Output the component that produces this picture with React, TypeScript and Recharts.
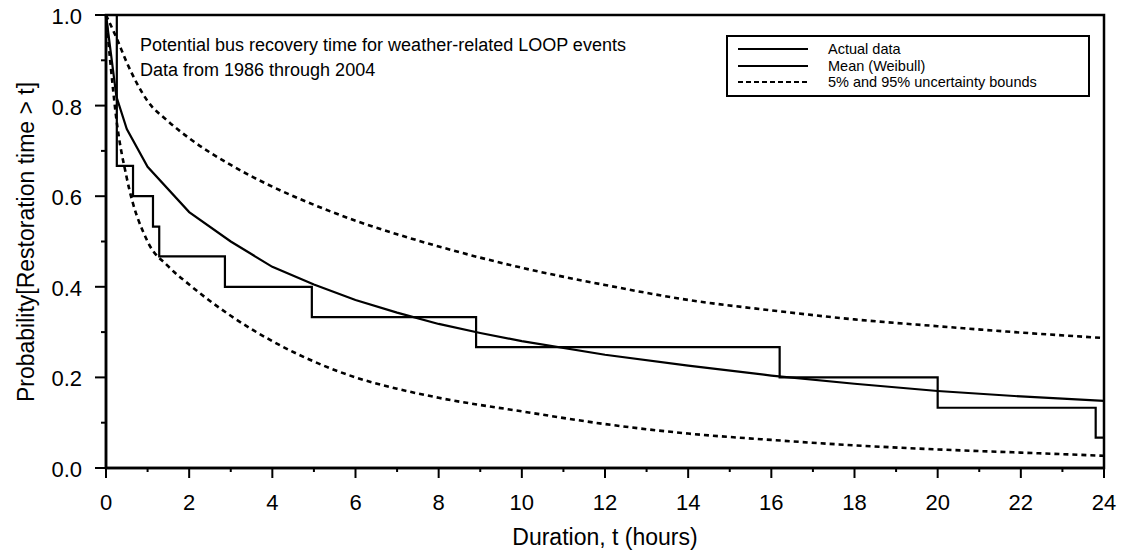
import React from 'react';
import {
  LineChart,
  Line,
  XAxis,
  YAxis,
  ReferenceArea,
} from 'recharts';

// step data (Kaplan-Meier style, actual events)
const stepTimes = [0, 0.26, 0.65, 1.13, 1.28, 2.86, 4.95, 8.9, 16.2, 20.0, 23.8, 24];
const stepProb = [1.0, 0.667, 0.6, 0.533, 0.467, 0.4, 0.333, 0.267, 0.2, 0.133, 0.067, 0.067];

// mean (Weibull) curve
const meanTimes = [0, 0.25, 0.5, 1, 2, 3, 4, 5, 6, 7, 8, 9, 10, 12, 14, 16, 18, 20, 22, 24];
const meanProb = [1.0, 0.82, 0.748, 0.665, 0.565, 0.5, 0.444, 0.405, 0.371, 0.343, 0.318, 0.298, 0.28, 0.25, 0.226, 0.204, 0.186, 0.17, 0.158, 0.148];

// 95% bound
const upperTimes = [0, 0.25, 0.5, 1, 1.5, 2, 3, 4, 5, 6, 7, 8, 10, 12, 14, 16, 18, 20, 22, 24];
const upperProb = [1.0, 0.95, 0.895, 0.81, 0.765, 0.728, 0.669, 0.621, 0.581, 0.546, 0.516, 0.489, 0.442, 0.404, 0.371, 0.348, 0.328, 0.313, 0.299, 0.287];

// 5% bound
const lowerTimes = [0, 0.1, 0.25, 0.5, 1, 1.5, 2, 3, 4, 5, 6, 7, 8, 10, 12, 14, 16, 18, 20, 22, 24];
const lowerProb = [1.0, 0.9, 0.77, 0.64, 0.5, 0.445, 0.405, 0.336, 0.28, 0.235, 0.2, 0.175, 0.155, 0.125, 0.097, 0.076, 0.062, 0.05, 0.041, 0.034, 0.027];

const xTicks = [0, 1, 2, 3, 4, 5, 6, 7, 8, 9, 10, 11, 12, 13, 14, 15, 16, 17, 18, 19, 20, 21, 22, 23, 24];
const yTicks = [0, 0.1, 0.2, 0.3, 0.4, 0.5, 0.6, 0.7, 0.8, 0.9, 1.0];

const legendItems = ['Actual data', 'Mean (Weibull)', '5% and 95% uncertainty bounds'];

const zip = (xs: number[], ys: number[]) => xs.map((t, i) => ({ t, p: ys[i] }));

const stepData = zip(stepTimes, stepProb);
const meanData = zip(meanTimes, meanProb);
const upperData = zip(upperTimes, upperProb);
const lowerData = zip(lowerTimes, lowerProb);

const FONT = '"Liberation Sans", Arial, Helvetica, sans-serif';

const XTick = (props: any) => {
  const { x, y, payload } = props;
  const v = payload.value;
  const major = v % 2 === 0;
  return (
    <g>
      <line x1={x} x2={x} y1={y} y2={y + (major ? 10 : 4)} stroke="#000" strokeWidth={2} />
      {major && (
        <text x={x} y={y + 42} textAnchor="middle" fontFamily={FONT} fontSize={22} fill="#000">
          {v}
        </text>
      )}
    </g>
  );
};

const YTick = (props: any) => {
  const { x, y, payload } = props;
  const v = payload.value;
  const major = Math.round(v * 10) % 2 === 0;
  return (
    <g>
      <line x1={x - (major ? 11 : 5)} x2={x} y1={y} y2={y} stroke="#000" strokeWidth={2} />
      {major && (
        <text x={x - 24} y={y + 9} textAnchor="end" fontFamily={FONT} fontSize={22} fill="#000">
          {v.toFixed(1)}
        </text>
      )}
    </g>
  );
};

export default function App() {
  return (
    <div style={{ position: 'absolute', left: 0, top: 0, width: 1124, height: 555, background: '#fff', fontFamily: FONT }}>
      <LineChart width={1124} height={555} margin={{ top: 15, right: 20, left: 0, bottom: 0 }}>
        <XAxis
          dataKey="t"
          type="number"
          domain={[0, 24]}
          ticks={xTicks}
          interval={0}
          allowDuplicatedCategory={false}
          height={87}
          tickSize={0}
          tickMargin={0}
          tickLine={false}
          tick={<XTick />}
          axisLine={{ stroke: '#000', strokeWidth: 2.5 }}
        />
        <YAxis
          dataKey="p"
          type="number"
          domain={[0, 1]}
          ticks={yTicks}
          interval={0}
          width={106}
          tickSize={0}
          tickMargin={0}
          tickLine={false}
          tick={<YTick />}
          axisLine={{ stroke: '#000', strokeWidth: 2.5 }}
        />
        <ReferenceArea x1={0} x2={24} y1={0} y2={1} fill="none" stroke="#000" strokeWidth={2.5} />
        <Line data={upperData} dataKey="p" type="monotone" stroke="#000" strokeWidth={2.6} strokeDasharray="5 4" dot={false} isAnimationActive={false} />
        <Line data={lowerData} dataKey="p" type="monotone" stroke="#000" strokeWidth={2.6} strokeDasharray="5 4" dot={false} isAnimationActive={false} />
        <Line data={meanData} dataKey="p" type="linear" stroke="#000" strokeWidth={2.2} dot={false} isAnimationActive={false} />
        <Line data={stepData} dataKey="p" type="stepAfter" stroke="#000" strokeWidth={2.2} dot={false} isAnimationActive={false} />
      </LineChart>

      <div style={{ position: 'absolute', left: 140, top: 33, fontSize: 18, lineHeight: '25px', color: '#000' }}>
        <div>Potential bus recovery time for weather-related LOOP events</div>
        <div>Data from 1986 through 2004</div>
      </div>

      <div
        style={{
          position: 'absolute',
          left: 726,
          top: 35,
          width: 364,
          height: 62,
          border: '2px solid #000',
          boxSizing: 'border-box',
          background: '#fff',
        }}
      >
        {legendItems.map((label, i) => (
          <div key={label} style={{ position: 'absolute', left: 8, top: 4 + i * 16.5, height: 16, display: 'flex', alignItems: 'center' }}>
            <svg width={72} height={16}>
              <line
                x1={2}
                x2={72}
                y1={8}
                y2={8}
                stroke="#000"
                strokeWidth={2}
                strokeDasharray={i === 2 ? '5 3' : undefined}
              />
            </svg>
            <span style={{ marginLeft: 20, fontSize: 14.5, whiteSpace: 'nowrap' }}>{label}</span>
          </div>
        ))}
      </div>

      <div style={{ position: 'absolute', left: 106, width: 998, top: 524, textAlign: 'center', fontSize: 23 }}>
        Duration, t (hours)
      </div>

      <div
        style={{
          position: 'absolute',
          left: 26,
          top: 242,
          transform: 'translate(-50%, -50%) rotate(-90deg)',
          fontSize: 23,
          whiteSpace: 'nowrap',
        }}
      >
        Probability[Restoration time &gt; t]
      </div>
    </div>
  );
}
